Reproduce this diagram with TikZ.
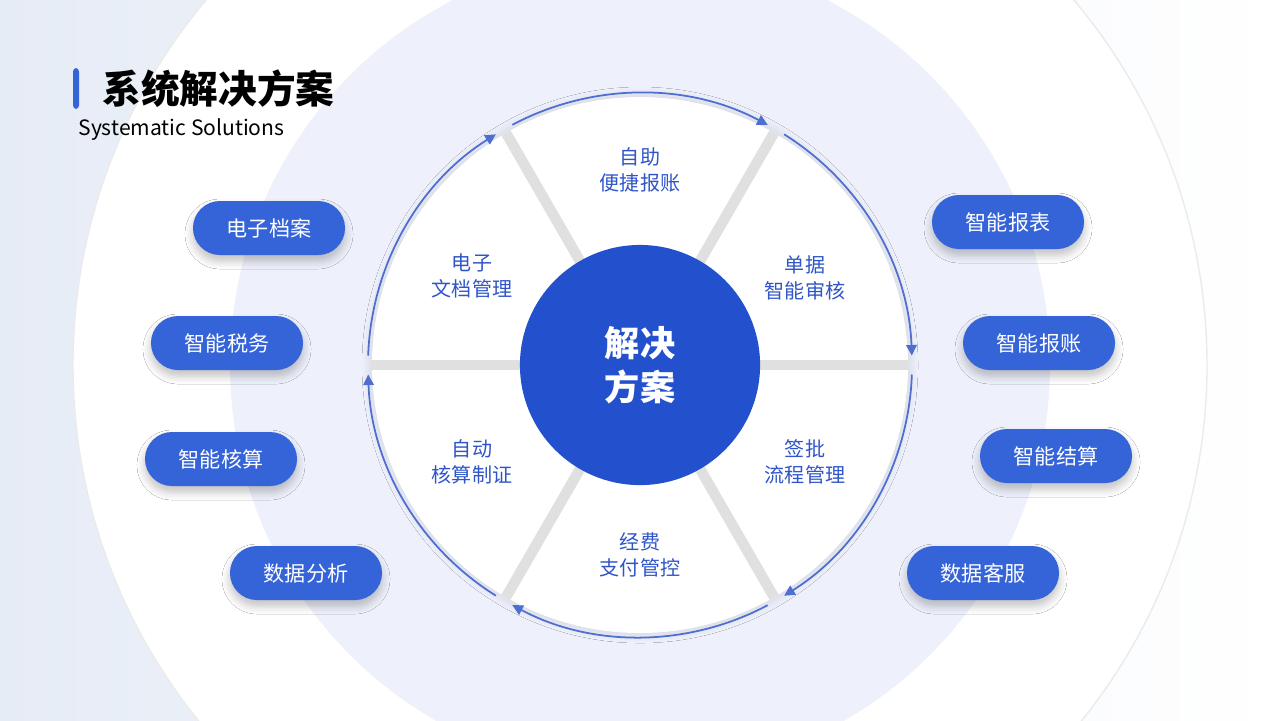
\documentclass[tikz,border=0pt]{standalone}
\usepackage{fontspec}
\setmainfont{Noto Sans CJK SC}
\usetikzlibrary{arrows.meta,shadows.blur}
\definecolor{mainblue}{HTML}{2350CC}
\definecolor{pillblue}{HTML}{3563D8}
\definecolor{txtblue}{HTML}{2F55C8}
\definecolor{ringbg}{HTML}{EEF1FB}
\definecolor{bgleft}{HTML}{E6ECF6}
\tikzset{
  pill/.style={rounded corners=0.27cm,fill=pillblue,text=white,minimum width=1.52cm,minimum height=0.54cm,
    font=\fontsize{6}{7}\selectfont,blur shadow={shadow blur steps=6,shadow xshift=0,shadow yshift=-0.06cm,shadow opacity=25,shadow blur radius=0.08cm}},
  sector/.style={text=txtblue,align=center,font=\fontsize{5.7}{7.5}\selectfont},
  flow/.style={draw=txtblue!85,line width=0.5pt,-{Triangle[length=3pt,width=3pt]}},
  divider/.style={draw=black!12,line width=3pt}
}
\begin{document}
\begin{tikzpicture}[x=0.01cm,y=-0.01cm]
  \useasboundingbox (0,0) rectangle (1280,720);
  \shade[left color=bgleft,right color=white] (0,0) rectangle (1280,720);
  \clip (0,0) rectangle (1280,720);
  % rings
  \fill[white] (640,365) circle[radius=567];
  \draw[black!8] (640,365) circle[radius=567];
  \fill[ringbg] (640,365) circle[radius=410];
  \fill[white,blur shadow={shadow blur steps=8,shadow xshift=0,shadow yshift=0,shadow opacity=15,shadow blur radius=0.1cm}] (640,365) circle[radius=268];
  % dividers
  \foreach \a in {0,60,...,300}
    \draw[divider] (640,365) -- ++(\a:268);
  \foreach \a in {0,60,...,300}
    \draw[flow] (640,365) ++(-\a-58:272) arc[start angle=-\a-58,end angle=-\a-2,radius=272];
  % hub
  \node[circle,fill=mainblue,minimum size=2.4cm,text=white,align=center,
    font=\bfseries\fontsize{10}{12.5}\selectfont] (hub) at (640,365) {解决\\方案};
  % sectors
  \node[sector] (s1) at (640,170) {自助\\便捷报账};
  \node[sector] (s2) at (805,278) {单据\\智能审核};
  \node[sector] (s3) at (805,462) {签批\\流程管理};
  \node[sector] (s4) at (640,555) {经费\\支付管控};
  \node[sector] (s5) at (472,462) {自动\\核算制证};
  \node[sector] (s6) at (472,276) {电子\\文档管理};
  % pills
  \node[pill] (p1) at (269,228) {电子档案};
  \node[pill] (p2) at (227,343) {智能税务};
  \node[pill] (p3) at (221,459) {智能核算};
  \node[pill] (p4) at (306,573) {数据分析};
  \node[pill] (p5) at (1008,222) {智能报表};
  \node[pill] (p6) at (1039,343) {智能报账};
  \node[pill] (p7) at (1056,456) {智能结算};
  \node[pill] (p8) at (983,573) {数据客服};
  % title
  \fill[pillblue,rounded corners=1] (73,68) rectangle (79,109);
  \node[anchor=west,font=\bfseries\fontsize{11}{13}\selectfont] (title) at (90,89) {系统解决方案};
  \node[anchor=west,font=\fontsize{6}{7}\selectfont] (subtitle) at (66,130) {Systematic Solutions};
\end{tikzpicture}
\end{document}
